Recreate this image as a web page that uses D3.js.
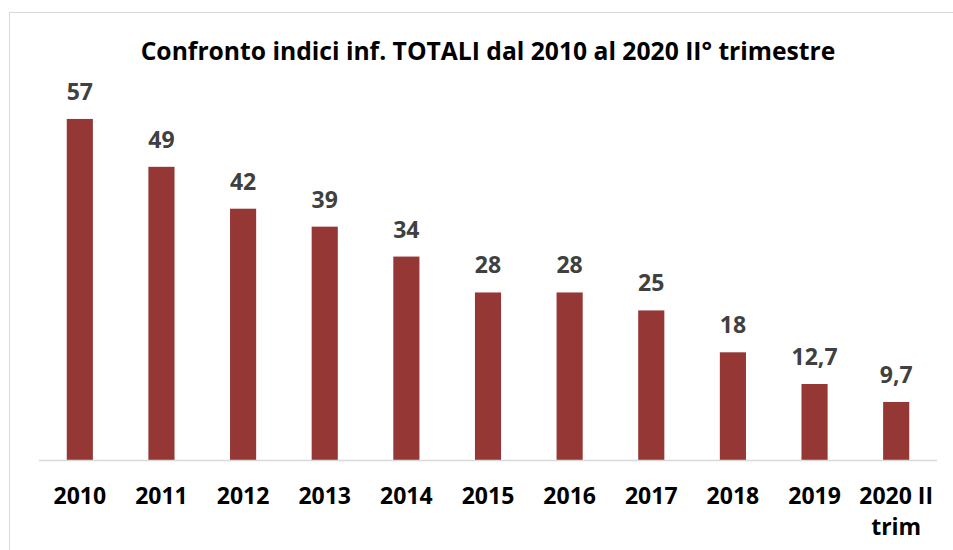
<!DOCTYPE html>
<html>
<head>
<meta charset="utf-8">
<script src="https://cdn.jsdelivr.net/npm/d3@7"></script>
<style>
  html, body { margin: 0; padding: 0; background: #fff; }
  svg { display: block; font-family: "Open Sans", sans-serif; }
</style>
</head>
<body>
<svg id="chart" width="953" height="550"></svg>
<script>
// data
const categories = ['2010', '2011', '2012', '2013', '2014', '2015', '2016', '2017', '2018', '2019', '2020 II|trim'];
const values = [57, 49, 42, 39, 34, 28, 28, 25, 18, 12.7, 9.7];
const valueLabels = ['57', '49', '42', '39', '34', '28', '28', '25', '18', '12,7', '9,7'];
const title = 'Confronto indici inf. TOTALI dal 2010 al 2020 II° trimestre';

const width = 953, height = 550;
const margin = { left: 39, right: 16, top: 101, bottom: 90 };

const svg = d3.select('#chart');

// chart area border (only top and left visible)
svg.append('rect')
  .attr('x', 9.5).attr('y', 12.5)
  .attr('width', 960).attr('height', 560)
  .attr('fill', 'none')
  .attr('stroke', '#d9d9d9')
  .attr('stroke-width', 1);

const x = d3.scaleBand()
  .domain(categories)
  .range([39, 937])
  .paddingInner(0.68)
  .paddingOuter(0.34);

const y = d3.scaleLinear()
  .domain([0, 60])
  .range([460, 101]);

// title
const t = svg.append('text')
  .attr('x', 488)
  .attr('y', 60)
  .attr('text-anchor', 'middle')
  .style('font-size', '25px')
  .style('font-weight', 'bold')
  .style('fill', '#000')
  .text(title);
const tw = t.node().getComputedTextLength();
if (tw > 695) t.style('font-size', (25 * 695 / tw) + 'px');

// bars
svg.selectAll('.bar')
  .data(values)
  .enter()
  .append('rect')
  .attr('class', 'bar')
  .attr('x', (d, i) => x(categories[i]))
  .attr('y', d => y(d))
  .attr('width', x.bandwidth())
  .attr('height', d => y(0) - y(d))
  .attr('fill', '#953735');

// baseline
svg.append('line')
  .attr('x1', 39).attr('x2', 937)
  .attr('y1', y(0) + 0.5).attr('y2', y(0) + 0.5)
  .attr('stroke', '#d9d9d9')
  .attr('stroke-width', 1.5);

// value labels
svg.selectAll('.val')
  .data(values)
  .enter()
  .append('text')
  .attr('class', 'val')
  .attr('x', (d, i) => x(categories[i]) + x.bandwidth() / 2)
  .attr('y', d => y(d) - 19)
  .attr('text-anchor', 'middle')
  .style('font-size', '23px')
  .style('font-weight', 'bold')
  .style('fill', '#404040')
  .text((d, i) => valueLabels[i]);

// category labels
svg.selectAll('.cat')
  .data(categories)
  .enter()
  .append('text')
  .attr('class', 'cat')
  .attr('x', d => x(d) + x.bandwidth() / 2)
  .attr('y', 504)
  .attr('text-anchor', 'middle')
  .style('font-size', '23px')
  .style('font-weight', 'bold')
  .style('fill', '#000')
  .each(function(d) {
    const parts = d.split('|');
    const el = d3.select(this);
    parts.forEach((p, j) => {
      el.append('tspan')
        .attr('x', x(d) + x.bandwidth() / 2)
        .attr('dy', j === 0 ? 0 : 31)
        .text(p);
    });
  });
</script>
</body>
</html>
